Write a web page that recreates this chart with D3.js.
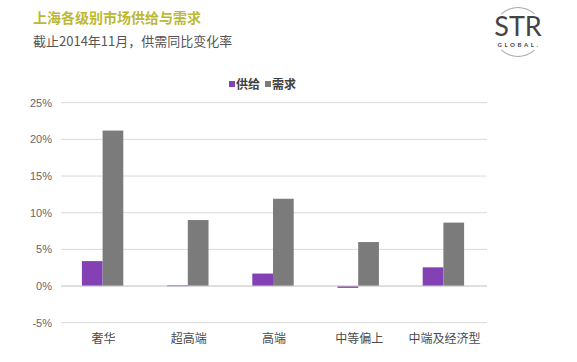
<!DOCTYPE html>
<html>
<head>
<meta charset="utf-8">
<script src="https://cdn.jsdelivr.net/npm/d3@7"></script>
<style>
  body { margin: 0; background: #fff; }
  svg text { font-family: "Noto Sans CJK SC", "Liberation Sans", Arial, sans-serif; }
</style>
</head>
<body>
<div id="chart"></div>
<script>
// data (percent change, year on year)
var categories = ["奢华", "超高端", "高端", "中等偏上", "中端及经济型"];
var supply = [3.4, 0.1, 1.7, -0.25, 2.55];
var demand = [21.2, 9.0, 11.9, 6.0, 8.65];
var seriesNames = ["供给", "需求"];
var yTicks = [-5, 0, 5, 10, 15, 20, 25];

var W = 577, H = 362;
var colors = ["#8341b5", "#7b7b7b"];

var svg = d3.select("#chart").append("svg")
  .attr("width", W).attr("height", H);

// title block
svg.append("text").attr("x", 33).attr("y", 23)
  .style("font-size", "14px").style("font-weight", "bold")
  .style("fill", "#bcb834").text("上海各级别市场供给与需求");
svg.append("text").attr("x", 33).attr("y", 46)
  .style("font-size", "13px").style("fill", "#555")
  .text("截止2014年11月，供需同比变化率");

// logo
var logo = svg.append("g").attr("transform", "translate(518,32)");
var arc = d3.arc().innerRadius(24).outerRadius(25);
logo.append("path").attr("d", arc({startAngle: -0.75, endAngle: 0.75})).style("fill", "#aaa");
logo.append("path").attr("d", arc({startAngle: Math.PI - 0.75, endAngle: Math.PI + 0.75})).style("fill", "#aaa");
logo.append("text").attr("y", 4).attr("text-anchor", "middle")
  .style("font-family", "Lato, 'Liberation Sans', sans-serif")
  .style("font-size", "27px").style("fill", "#444").text("STR");
logo.append("text").attr("x", 1).attr("y", 15).attr("text-anchor", "middle")
  .style("font-family", "Lato, 'Liberation Sans', sans-serif")
  .style("font-size", "6px").style("font-weight", "bold").style("letter-spacing", "2.6px")
  .style("fill", "#444").text("GLOBAL.");

// scales
var x0 = d3.scaleBand().domain(categories).range([61, 487]);
var x1 = d3.scaleBand().domain(seriesNames).range([0, 41.4]);
var y = d3.scaleLinear().domain([-5, 25]).range([322.7, 102.7]);

// gridlines
svg.append("g").selectAll("line").data(yTicks).join("line")
  .attr("x1", 61).attr("x2", 487)
  .attr("y1", function(d) { return y(d); }).attr("y2", function(d) { return y(d); })
  .style("stroke", "#d9d9d9").style("stroke-width", 1);

// y axis labels
var yAxis = d3.axisLeft(y).tickValues(yTicks).tickSize(0).tickPadding(0)
  .tickFormat(function(d) { return d + "%"; });
var ya = svg.append("g").attr("transform", "translate(52,0)").call(yAxis);
ya.select(".domain").remove();
ya.selectAll("text").style("font-size", "11px").style("fill", "#666")
  .style("font-family", "'Liberation Sans', Arial, sans-serif");

// bars
var groups = svg.append("g").selectAll("g").data(categories).join("g")
  .attr("transform", function(d) { return "translate(" + (x0(d) + x0.bandwidth() / 2 - 21.7) + ",0)"; });
groups.selectAll("rect")
  .data(function(d, i) { return [supply[i], demand[i]]; })
  .join("rect")
  .attr("x", function(d, j) { return x1(seriesNames[j]); })
  .attr("width", x1.bandwidth())
  .attr("y", function(d) { return y(Math.max(0, d)); })
  .attr("height", function(d) { return Math.max(1, Math.abs(y(d) - y(0))); })
  .style("fill", function(d, j) { return colors[j]; });

// zero line on top
svg.append("line").attr("x1", 61).attr("x2", 487).attr("y1", y(0)).attr("y2", y(0))
  .style("stroke", "#d0d0d0");

// x labels
var xAxis = d3.axisBottom(x0).tickSize(0).tickPadding(0);
var xa = svg.append("g").attr("transform", "translate(0,334)").call(xAxis);
xa.select(".domain").remove();
xa.selectAll("text").style("font-size", "12px").style("fill", "#4a4a4a")
  .style("font-family", "'Noto Sans CJK SC', sans-serif");

// legend
var legend = svg.append("g").attr("transform", "translate(229,84)");
var items = legend.selectAll("g").data(seriesNames).join("g")
  .attr("transform", function(d, i) { return "translate(" + (i * 36) + ",0)"; });
items.append("rect").attr("x", 0).attr("y", -3).attr("width", 6).attr("height", 6)
  .style("fill", function(d, i) { return colors[i]; });
items.append("text").attr("x", 7).attr("y", 4.5)
  .style("font-size", "12px").style("font-weight", "bold").style("fill", "#404040")
  .text(function(d) { return d; });
</script>
</body>
</html>
